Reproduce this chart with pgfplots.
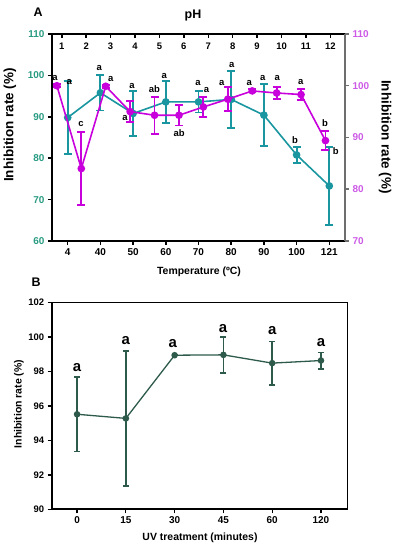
\documentclass[border=0pt]{standalone}
\usepackage{pgfplots}
\pgfplotsset{compat=1.18}
\usepackage{fontspec}
\setmainfont{Liberation Sans}
\definecolor{tealc}{RGB}{25,150,160}
\definecolor{tealtick}{RGB}{40,155,130}
\definecolor{magc}{RGB}{200,0,220}
\definecolor{magtick}{RGB}{205,90,230}
\definecolor{dgreen}{RGB}{45,90,75}
\definecolor{axgray}{RGB}{110,110,110}
\newcommand{\fs}[1]{\fontsize{#1}{#1}\selectfont\bfseries}

\begin{document}
\begin{tikzpicture}
\path[use as bounding box] (0bp,0bp) rectangle (396bp,550bp);

% ---------------- Panel A : temperature (teal, left/bottom axes)
\begin{axis}[
  at={(52bp,309bp)}, anchor=south west, scale only axis,
  width=293bp, height=207bp,
  xmin=-0.48, xmax=8.48, ymin=60, ymax=110,
  axis x line=bottom, axis y line=left,
  axis line style={-, line width=1.8bp, black},
  tick align=outside, major tick length=4bp,
  tick style={line width=1.5bp, black},
  xtick={0,...,8}, xticklabels={4,40,50,60,70,80,90,100,121},
  ytick={60,70,...,110},
  /pgf/number format/assume math mode=true,
  xticklabel style={font=\fs{10}},
  yticklabel style={font=\fs{10}, text=tealtick},
  clip=false,
]
\addplot[color=tealc, line width=1.6bp, mark=*, mark size=3bp,
  error bars/.cd, y dir=both, y explicit,
  error bar style={line width=1.8bp, color=tealc, solid},
  error mark options={rotate=90, mark size=4bp, line width=1.8bp, color=tealc}]
  table[x=x, y=y, y error=e] {
  x y e
  0 89.8 8.85
  1 95.8 4.3
  2 90.8 5.4
  3 93.6 5.1
  4 93.6 2.55
  5 94.2 6.9
  6 90.4 7.5
  7 80.8 2.0
  8 73.3 9.5
};
\begin{scope}[every node/.style={font=\fs{9.5}, black, inner sep=0pt}]
\node at (rel axis cs:0.0102,0.786) {a};
\node at (rel axis cs:0.0590,0.768) {a};
\node at (rel axis cs:0.0990,0.565) {c};
\node at (rel axis cs:0.1614,0.837) {a};
\node at (rel axis cs:0.2003,0.781) {a};
\node at (rel axis cs:0.2730,0.749) {a};
\node at (rel axis cs:0.2491,0.593) {a};
\node at (rel axis cs:0.3491,0.733) {ab};
\node at (rel axis cs:0.3833,0.797) {a};
\node at (rel axis cs:0.4341,0.523) {ab};
\node at (rel axis cs:0.4980,0.765) {a};
\node at (rel axis cs:0.5276,0.729) {a};
\node at (rel axis cs:0.6133,0.850) {a};
\node at (rel axis cs:0.5792,0.765) {a};
\node at (rel axis cs:0.6734,0.765) {a};
\node at (rel axis cs:0.7191,0.786) {a};
\node at (rel axis cs:0.7689,0.786) {a};
\node at (rel axis cs:0.8488,0.770) {a};
\node at (rel axis cs:0.9317,0.571) {b};
\node at (rel axis cs:0.8294,0.485) {b};
\node at (rel axis cs:0.9683,0.436) {b};
\end{scope}
\end{axis}

% ---------------- Panel A : pH (magenta, top/right axes)
\begin{axis}[
  at={(52bp,309bp)}, anchor=south west, scale only axis,
  width=293bp, height=207bp,
  xmin=0.6, xmax=12.6, ymin=70, ymax=110,
  axis x line=top, axis y line=right,
  x axis line style={-, line width=1.8bp, black},
  y axis line style={-, line width=1.8bp, axgray},
  xtick align=inside, ytick align=outside,
  major tick length=4bp,
  x tick style={line width=1.5bp, black},
  y tick style={line width=1.5bp, axgray},
  xtick={1,...,12}, ytick={70,80,...,110},
  /pgf/number format/assume math mode=true,
  xticklabel style={font=\fs{9.5}, anchor=north, yshift=-5.4bp},
  yticklabel style={font=\fs{10}, text=magtick},
  clip=false,
]
\addplot[color=magc, line width=1.6bp, mark=*, mark size=3bp,
  error bars/.cd, y dir=both, y explicit,
  error bar style={line width=1.8bp, color=magc, solid},
  error mark options={rotate=90, mark size=4bp, line width=1.8bp, color=magc}]
  table[x=x, y=y, y error=e] {
  x y e
  0.8 100.0 0.3
  1.8 84.0 7.0
  2.8 99.9 0.3
  3.8 95.0 2.0
  4.8 94.3 3.6
  5.8 94.3 2.0
  6.8 95.9 2.0
  7.8 97.4 2.3
  8.8 99.0 0.3
  9.8 98.6 1.2
  10.8 98.3 1.0
  11.8 89.4 1.8
};
\end{axis}

\node[font=\fs{12.5}] at (38bp,538bp) {A};
\node[font=\fs{12.5}] at (193bp,534bp) {pH};
\node[font=\fs{13.5}, rotate=90] at (10bp,425bp) {Inhibition rate (\%)};
\node[font=\fs{13.5}, rotate=-90] at (385bp,413bp) {Inhibition rate (\%)};
\node[font=\fs{10.5}] at (199bp,278bp) {Temperature (ºC)};

% ---------------- Panel B : UV
\begin{axis}[
  at={(51.7bp,40.7bp)}, anchor=south west, scale only axis,
  width=295.6bp, height=206.6bp,
  xmin=-0.52, xmax=5.54, ymin=90, ymax=102,
  axis line style={line width=1bp, black},
  xtick pos=bottom, ytick pos=left, tick align=outside,
  major tick length=4bp, tick style={line width=1.3bp, black},
  xtick={0,...,5}, xticklabels={0,15,30,45,60,120},
  ytick={90,92,...,102},
  /pgf/number format/assume math mode=true,
  xticklabel style={font=\fs{10}},
  yticklabel style={font=\fs{9.5}},
  clip=false,
]
\draw[line width=2bp, black] (rel axis cs:0,1) -- (rel axis cs:0,0) -- (rel axis cs:1,0);
\addplot[color=dgreen, line width=1.3bp, mark=*, mark size=2.6bp,
  error bars/.cd, y dir=both, y explicit,
  error bar style={line width=1.5bp, color=dgreen, solid},
  error mark options={rotate=90, mark size=3bp, line width=1.5bp, color=dgreen}]
  table[x=x, y=y, y error=e] {
  x y e
  0 95.52 2.16
  1 95.28 3.92
  2 98.95 0.03
  3 98.97 1.05
  4 98.49 1.27
  5 98.64 0.48
};
\begin{scope}[every node/.style={font=\fs{15}, black, inner sep=0pt}]
\node at (axis cs:0,98.26) {a};
\node at (axis cs:1,99.8) {a};
\node at (axis cs:1.96,99.65) {a};
\node at (axis cs:2.99,100.52) {a};
\node at (axis cs:4,100.38) {a};
\node at (axis cs:5,99.69) {a};
\end{scope}
\end{axis}

\node[font=\fs{12.5}] at (36bp,268bp) {B};
\node[font=\fs{10.5}, rotate=90] at (19bp,146bp) {Inhibition rate (\%)};
\node[font=\fs{10.5}] at (200bp,12bp) {UV treatment (minutes)};
\end{tikzpicture}
\end{document}
